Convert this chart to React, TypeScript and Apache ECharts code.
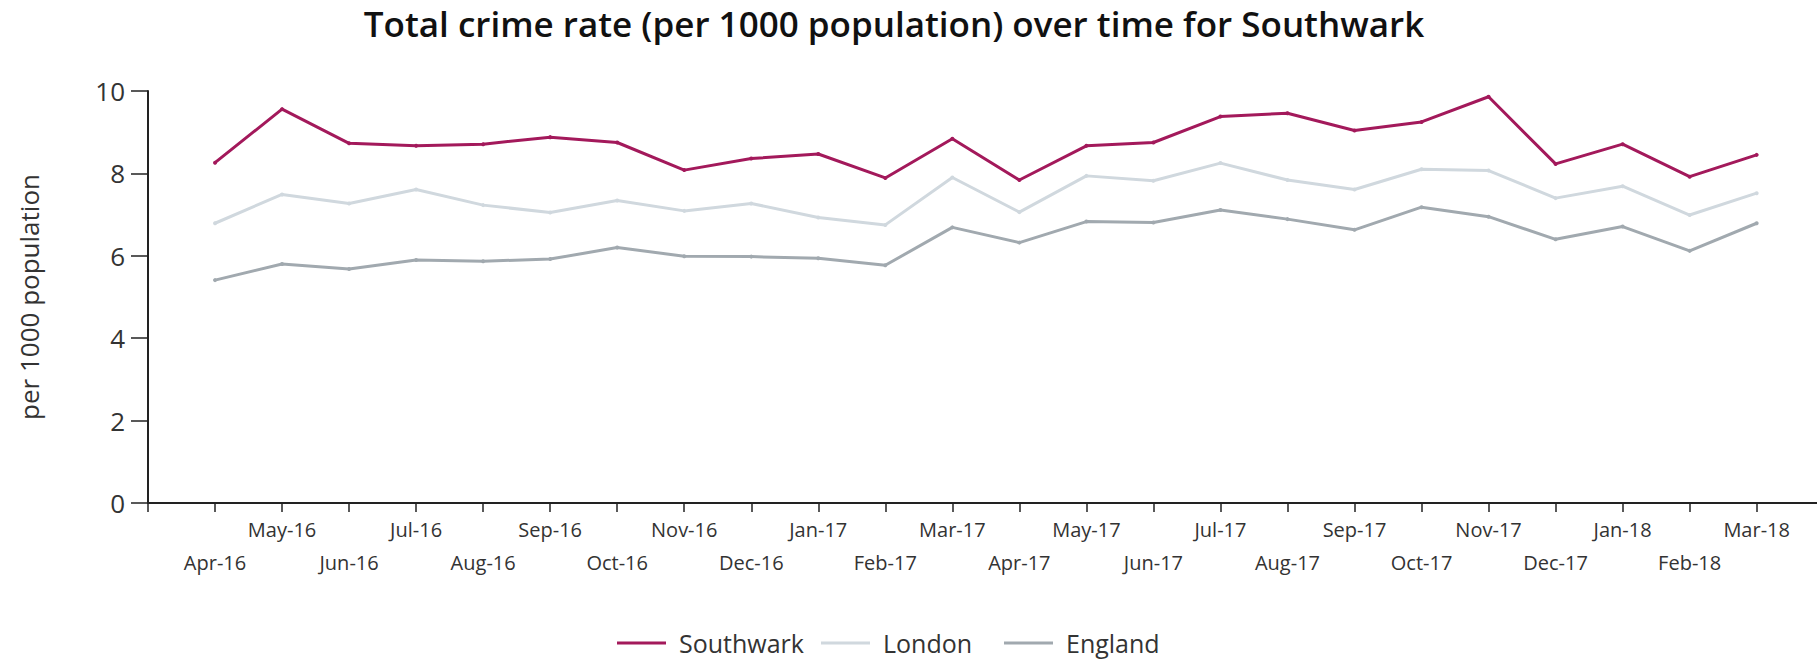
import React, { useEffect, useRef } from "react";
import * as echarts from "echarts";

const months = [
  "Apr-16", "May-16", "Jun-16", "Jul-16", "Aug-16", "Sep-16", "Oct-16", "Nov-16",
  "Dec-16", "Jan-17", "Feb-17", "Mar-17", "Apr-17", "May-17", "Jun-17", "Jul-17",
  "Aug-17", "Sep-17", "Oct-17", "Nov-17", "Dec-17", "Jan-18", "Feb-18", "Mar-18",
];

const southwark = [
  8.26, 9.56, 8.73, 8.67, 8.71, 8.88, 8.75, 8.08, 8.36, 8.47, 7.89, 8.84,
  7.84, 8.67, 8.75, 9.38, 9.46, 9.04, 9.25, 9.86, 8.23, 8.71, 7.92, 8.45,
];
const london = [
  6.79, 7.49, 7.27, 7.61, 7.23, 7.05, 7.34, 7.09, 7.27, 6.93, 6.75, 7.90,
  7.06, 7.94, 7.82, 8.25, 7.84, 7.61, 8.10, 8.07, 7.40, 7.69, 6.99, 7.52,
];
const england = [
  5.41, 5.80, 5.68, 5.90, 5.87, 5.92, 6.20, 5.99, 5.98, 5.94, 5.77, 6.69,
  6.32, 6.83, 6.81, 7.11, 6.89, 6.63, 7.18, 6.95, 6.40, 6.71, 6.12, 6.79,
];

const seriesNames = ["Southwark", "London", "England"];
const colors = ["#a3195b", "#d0d8de", "#a1a9af"];
const legendTextWidths = [128, 107, 121];
const yTicks = [0, 2, 4, 6, 8, 10];

const FONT = "'Open Sans', sans-serif";

export default function App() {
  const ref = useRef<HTMLDivElement>(null);
  useEffect(() => {
    if (!ref.current) return;
    const chart = echarts.init(ref.current, null, { renderer: "svg" });
    const values = [southwark, london, england];
    const labelIdx = months.map((_, i) => i);
    const tickIdx = [-1, ...labelIdx];
    chart.setOption({
      animation: false,
      backgroundColor: "#ffffff",
      title: {
        text: "Total crime rate (per 1000 population) over time for Southwark",
        left: 889,
        top: 1,
        textAlign: "center",
        textStyle: { fontFamily: FONT, fontSize: 35, fontWeight: 600, color: "#111" },
      },
      legend: {
        data: seriesNames.map((name, i) => ({
          name,
          textStyle: { width: legendTextWidths[i] },
        })),
        left: 612,
        top: 624,
        icon: "rect",
        itemWidth: 49,
        itemHeight: 3,
        itemGap: 14,
        textStyle: {
          fontFamily: FONT,
          fontSize: 25,
          lineHeight: 28,
          color: "#333",
          padding: [0, 0, 0, 8],
        },
      },
      grid: { left: 148, right: 0, top: 91, bottom: 160, containLabel: false },
      xAxis: {
        type: "value",
        min: -1,
        max: 23.9,
        interval: 1,
        splitLine: { show: false },
        axisLine: { show: true, lineStyle: { color: "#222", width: 2 } },
        axisTick: {
          show: true,
          length: 9,
          customValues: tickIdx,
          lineStyle: { color: "#222", width: 1.5 },
        },
        axisLabel: {
          customValues: labelIdx,
          margin: 10,
          fontFamily: FONT,
          fontSize: 20,
          color: "#333",
          lineHeight: 33,
          verticalAlign: "top",
          formatter: (v: number) => {
            const i = Math.round(v);
            if (i < 0 || i >= months.length) return "";
            return i % 2 === 0 ? "\n" + months[i] : months[i];
          },
        },
      },
      yAxis: {
        type: "value",
        min: 0,
        max: 10,
        interval: 2,
        name: "per 1000 population",
        nameLocation: "middle",
        nameGap: 106,
        nameTextStyle: { fontFamily: FONT, fontSize: 26, color: "#333" },
        splitLine: { show: false },
        axisLine: { show: true, onZero: false, lineStyle: { color: "#222", width: 2 } },
        axisTick: { show: true, length: 17, lineStyle: { color: "#222", width: 1.5 } },
        axisLabel: {
          margin: 23,
          fontFamily: FONT,
          fontSize: 26,
          color: "#333",
          formatter: (v: number) => (yTicks.includes(v) ? String(v) : ""),
        },
      },
      series: seriesNames.map((name, s) => ({
        name,
        type: "line",
        data: values[s].map((v, i) => [i, v]),
        showSymbol: true,
        symbol: "circle",
        symbolSize: 4,
        z: 3 - s,
        lineStyle: { color: colors[s], width: 3 },
        itemStyle: { color: colors[s] },
      })),
    });
    return () => chart.dispose();
  }, []);
  return (
    <div
      ref={ref}
      style={{ position: "absolute", left: 0, top: 0, width: 1817, height: 663 }}
    />
  );
}
